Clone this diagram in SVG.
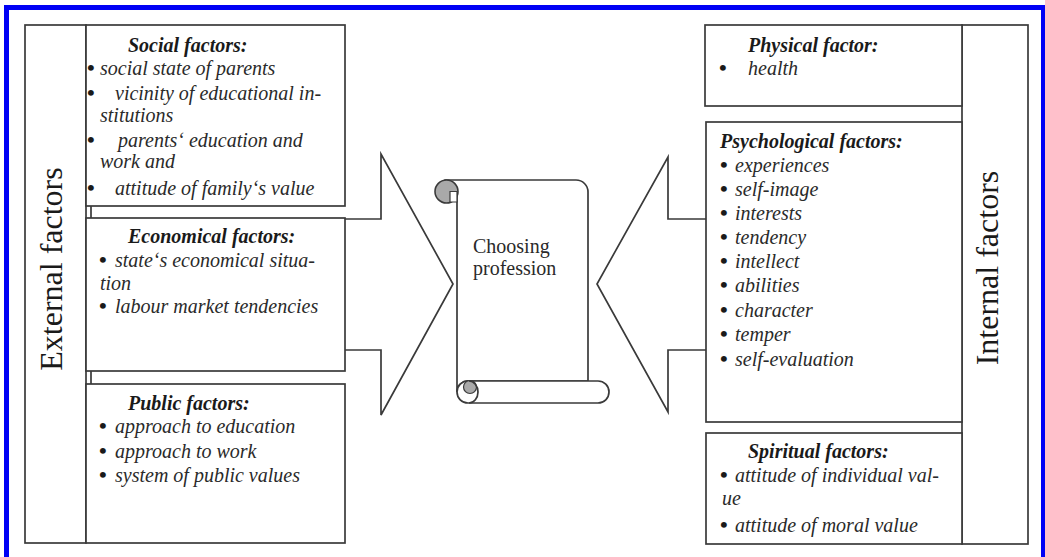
<svg xmlns="http://www.w3.org/2000/svg" width="1045" height="557" viewBox="0 0 1045 557">
<style>
  .box{fill:#fff;stroke:#3a3a3a;stroke-width:1.7}
  .ln{fill:none;stroke:#3a3a3a;stroke-width:1.7}
  .t{font-family:"Liberation Serif","Times New Roman",serif;font-size:20px;font-style:italic;fill:#2a2a2a}
  .h{font-family:"Liberation Serif","Times New Roman",serif;font-size:20px;font-style:italic;font-weight:bold;fill:#1a1a1a}
  .b{font-size:22px;font-style:normal;font-weight:bold;fill:#1a1a1a}
  .v{font-family:"Liberation Serif","Times New Roman",serif;font-size:32px;fill:#1a1a1a;text-anchor:middle}
  .c{font-family:"Liberation Serif","Times New Roman",serif;font-size:20px;fill:#2a2a2a}
</style>
<rect x="0" y="0" width="1045" height="557" fill="#fff"/>
<rect x="6.5" y="7.5" width="1037" height="600" fill="none" stroke="#0000f5" stroke-width="5"/>

<g id="connectors">
  <polygon class="box" points="330,219 381,219 381,154 453,284 381,415 381,350 330,350"/>
  <polygon class="box" points="720,219 668,219 668,157 597,284 668,412 668,350 720,350"/>
</g>

<g id="external-factors">
  <rect class="box" x="25" y="25" width="61" height="518"/>
  <text class="v" transform="translate(62,269) rotate(-90)">External factors</text>
</g>

<g id="social-factors">
  <rect class="box" x="86" y="25" width="259" height="181"/>
  <text class="h" x="128" y="52">Social factors:</text>
  <text class="t" y="75"><tspan class="b" x="87">•</tspan><tspan x="100">social state of parents</tspan></text>
  <text class="t" y="100"><tspan class="b" x="87">•</tspan><tspan x="115">vicinity of educational in-</tspan></text>
  <text class="t" x="100" y="122">stitutions</text>
  <text class="t" y="147"><tspan class="b" x="87">•</tspan><tspan x="118">parents‘ education and</tspan></text>
  <text class="t" x="100" y="168">work and</text>
  <text class="t" y="195"><tspan class="b" x="87">•</tspan><tspan x="115">attitude of family‘s value</tspan></text>
</g>
<path class="ln" d="M91 206 V218 M91 371 V384"/>

<g id="economical-factors">
  <rect class="box" x="86" y="218" width="259" height="153"/>
  <text class="h" x="128" y="243">Economical factors:</text>
  <text class="t" y="267"><tspan class="b" x="99">•</tspan><tspan x="115">state‘s economical situa-</tspan></text>
  <text class="t" x="100" y="290">tion</text>
  <text class="t" y="313"><tspan class="b" x="99">•</tspan><tspan x="115">labour market tendencies</tspan></text>
</g>

<g id="public-factors">
  <rect class="box" x="86" y="384" width="259" height="159"/>
  <text class="h" x="128" y="410">Public factors:</text>
  <text class="t" y="433"><tspan class="b" x="99">•</tspan><tspan x="115">approach to education</tspan></text>
  <text class="t" y="458"><tspan class="b" x="99">•</tspan><tspan x="115">approach to work</tspan></text>
  <text class="t" y="482"><tspan class="b" x="99">•</tspan><tspan x="115">system of public values</tspan></text>
</g>

<g id="choosing-profession">
  <path class="box" d="M446 180 H576 A12 12 0 0 1 588 192 V381 H469 A11 11 0 0 0 457 392 V191 Z"/>
  <circle cx="446.5" cy="191.5" r="11.5" fill="#a9a9a9" stroke="#3a3a3a" stroke-width="1.6"/>
  <path d="M450 191.5 H457 V202 H450 Z" fill="#fff" stroke="#3a3a3a" stroke-width="1.2"/>
  <rect class="box" x="457" y="381" width="152" height="22" rx="11"/>
  <circle cx="470" cy="387" r="6.5" fill="#a9a9a9" stroke="#3a3a3a" stroke-width="1.2"/>
  <path class="ln" d="M469 381 A9 11 0 0 1 469 403"/>
  <text class="c" x="473" y="253">Choosing</text>
  <text class="c" x="473" y="275">profession</text>
</g>

<g id="internal-factors">
  <rect class="box" x="962" y="25" width="66" height="519"/>
  <text class="v" transform="translate(998,268) rotate(-90)">Internal factors</text>
</g>

<g id="physical-factor">
  <rect class="box" x="705" y="25" width="257" height="81"/>
  <text class="h" x="748" y="52">Physical factor:</text>
  <text class="t" y="75"><tspan class="b" x="719">•</tspan><tspan x="748">health</tspan></text>
</g>

<g id="psychological-factors">
  <rect class="box" x="706" y="122" width="256" height="300"/>
  <text class="h" x="720" y="148">Psychological factors:</text>
  <text class="t" y="172"><tspan class="b" x="720">•</tspan><tspan x="735">experiences</tspan></text>
  <text class="t" y="196"><tspan class="b" x="720">•</tspan><tspan x="735">self-image</tspan></text>
  <text class="t" y="220"><tspan class="b" x="720">•</tspan><tspan x="735">interests</tspan></text>
  <text class="t" y="244"><tspan class="b" x="720">•</tspan><tspan x="735">tendency</tspan></text>
  <text class="t" y="268"><tspan class="b" x="720">•</tspan><tspan x="735">intellect</tspan></text>
  <text class="t" y="292"><tspan class="b" x="720">•</tspan><tspan x="735">abilities</tspan></text>
  <text class="t" y="317"><tspan class="b" x="720">•</tspan><tspan x="735">character</tspan></text>
  <text class="t" y="341"><tspan class="b" x="720">•</tspan><tspan x="735">temper</tspan></text>
  <text class="t" y="366"><tspan class="b" x="720">•</tspan><tspan x="735">self-evaluation</tspan></text>
</g>

<g id="spiritual-factors">
  <rect class="box" x="706" y="433" width="256" height="111"/>
  <text class="h" x="748" y="458">Spiritual factors:</text>
  <text class="t" y="482"><tspan class="b" x="720">•</tspan><tspan x="735">attitude of individual val-</tspan></text>
  <text class="t" x="722" y="505">ue</text>
  <text class="t" y="532"><tspan class="b" x="720">•</tspan><tspan x="735">attitude of moral value</tspan></text>
</g>
</svg>
